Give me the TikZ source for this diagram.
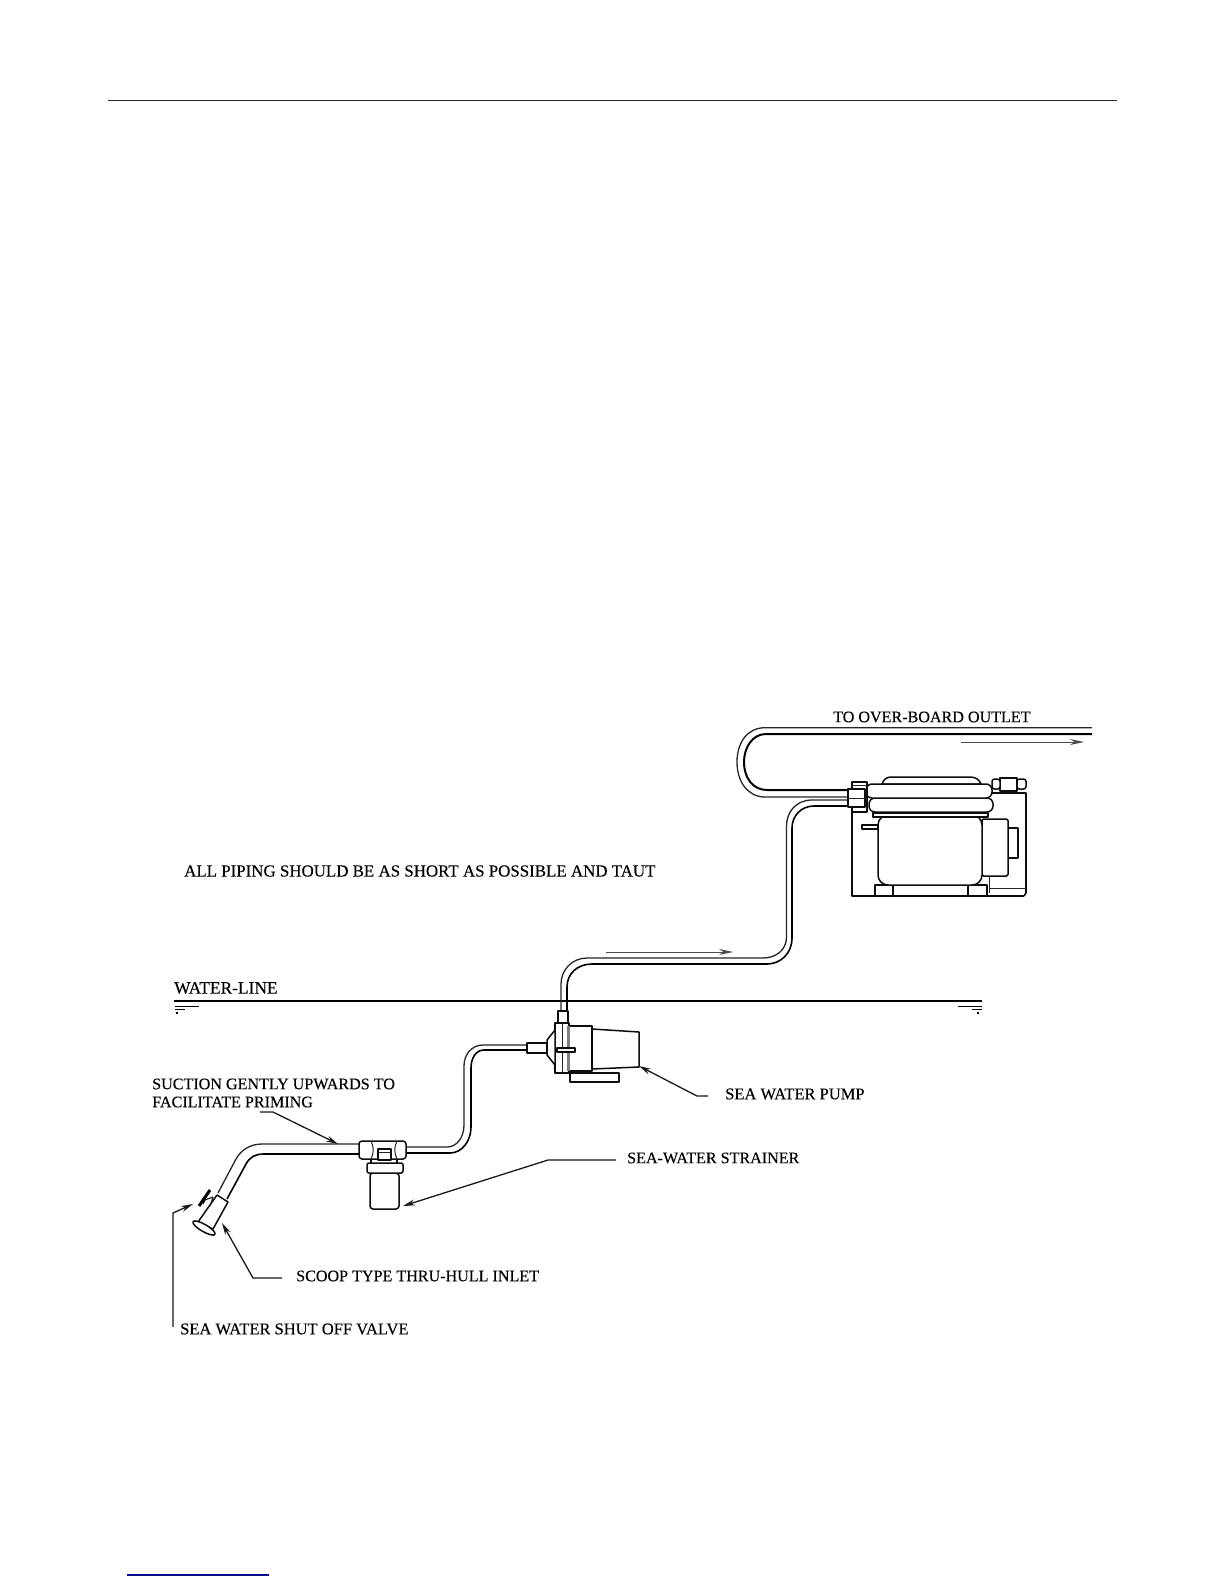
\documentclass[tikz,border=0pt]{standalone}
\usepackage{fontspec}
\setmainfont{Liberation Serif}
\newfontfamily\lblfont[FakeBold=0.15]{Liberation Serif}
\usetikzlibrary{arrows.meta}
\definecolor{linkblue}{rgb}{0.05,0.05,0.55}
\tikzset{
  pipe/.style={line width=1.3bp,black!85},
  heavy/.style={line width=2bp,black},
  part/.style={line width=1.5bp,black!95,fill=white,line join=round},
  thin part/.style={line width=1bp,black!85,line join=round},
  leader/.style={line width=1.3bp,black!90,-{Stealth[length=12bp,width=6bp]}},
  flow/.style={line width=1bp,black!70,-{Stealth[length=14bp,width=6bp]}},
  label/.style={anchor=west,inner sep=0pt,text=black,font=\lblfont\fontsize{16.1bp}{19bp}\selectfont},
  label big/.style={anchor=west,inner sep=0pt,text=black,font=\lblfont\fontsize{16.9bp}{19bp}\selectfont},
  label mid/.style={anchor=west,inner sep=0pt,text=black,font=\lblfont\fontsize{16.5bp}{19bp}\selectfont},
  label water/.style={anchor=west,inner sep=0pt,text=black,font=\lblfont\fontsize{17.4bp}{19bp}\selectfont},
}
\begin{document}
\begin{tikzpicture}[x=1bp,y=-1bp]
\useasboundingbox (0,0) rectangle (1224,1584);
\fill[white] (0,0) rectangle (1224,1584);

% page rules
\draw[line width=1.1bp,black!85] (108,100.5) -- (1117,100.5);
\draw[line width=1.4bp,linkblue] (127,1575) -- (269,1575);

% water line
\draw[line width=2.4bp,black] (174,1001) -- (982,1001);
\draw[line width=1bp] (175,1006) -- (199,1006) (175,1009) -- (185,1009);
\draw[line width=1.4bp] (176,1013) -- (178,1013);
\draw[line width=1bp] (958,1006) -- (982,1006) (972,1009) -- (982,1009);
\draw[line width=1.4bp] (977,1013) -- (979,1013);

% outlet pipe
\draw[pipe] (1092,727.7) -- (765,727.7) .. controls (747,727.7) and (737,743) .. (737,762)
   .. controls (737,782) and (748,797) .. (765,797) -- (848,797);
\draw[heavy] (1092,734) -- (766,734) .. controls (752,734) and (744,748) .. (744,762)
   .. controls (744,778) and (753,790) .. (767,790) -- (848,790);

% pump-to-head pipe
\draw[pipe] (848,800) -- (812,800) .. controls (796,800) and (786.5,812) .. (786.5,826)
   -- (786.5,937) .. controls (786.5,950) and (776,958) .. (763,958) -- (587,958)
   .. controls (572,958) and (561,970) .. (561,984) -- (561,1011);
\draw[heavy,line width=1.6bp] (848,806) -- (814,806) .. controls (801,806) and (792,816) .. (792,828)
   -- (792,938) .. controls (792,954) and (780,964) .. (767,964) -- (592,964)
   .. controls (577,964) and (567,974) .. (567,987) -- (567,1011);

% strainer-to-pump pipe
\draw[pipe] (527,1045) -- (483,1045) .. controls (472,1045) and (464,1054) .. (464,1066)
   -- (464,1125) .. controls (464,1137) and (457,1147) .. (447,1147) -- (406,1147);
\draw[heavy,line width=1.6bp] (527,1050) -- (484,1050) .. controls (476,1050) and (471,1058) .. (471,1068)
   -- (471,1127) .. controls (471,1141) and (462,1153) .. (450,1153) -- (406,1153);

% inlet pipe
\draw[pipe] (359,1144) -- (262,1144) .. controls (250,1144) and (241,1150) .. (236,1159) -- (218,1193);
\draw[heavy,line width=1.6bp] (359,1154) -- (264,1154) .. controls (255,1154) and (250,1157) .. (246,1164) -- (227,1199);

% thru-hull inlet and valve
\draw[part] (217,1195) -- (228,1202) -- (213,1229) -- (198,1222) -- cycle;
\draw[part,rotate around={-30:(204,1228)}] (204,1228) ellipse (12.7 and 3.6);
\draw[line width=1.1bp,black!90] (205,1200) -- (213,1197) (213,1197) -- (210,1206) (205,1200) -- (203,1204);
\draw[line width=3bp,black] (199,1206) -- (210,1190);

% strainer
\draw[part,rounded corners=3bp] (370,1173) -- (370,1209) -- (399,1209) -- (399,1173) -- cycle;
\draw[part,rounded corners=2bp] (367,1163) rectangle (403,1173);
\draw[part] (371,1155) -- (371,1163) (397,1155) -- (397,1163);
\draw[part,rounded corners=3bp] (359,1141) rectangle (406,1159);
\draw[thin part] (371,1141) .. controls (374,1147) and (374,1153) .. (371,1159);
\draw[thin part] (397,1141) .. controls (394,1147) and (394,1153) .. (397,1159);
\draw[part] (378,1149) rectangle (391,1160);
\draw[thin part] (378,1152) -- (391,1152);

% sea water pump
\draw[part] (592,1029) -- (639,1032) -- (639,1067) -- (592,1069) -- cycle;
\draw[part] (570,1073) rectangle (619,1082);
\draw[part] (569,1026) -- (592,1026) -- (592,1071) -- (569,1071) -- cycle;
\draw[part] (558,1011) rectangle (568,1023);
\draw[part] (555,1023) rectangle (569,1073);
\draw[thin part] (562,1023) -- (562,1073);
\draw[line width=2.2bp,black!50] (568.5,1026) -- (568.5,1071);
\draw[part] (547,1040) -- (555,1030) -- (555,1065) -- (547,1055) -- cycle;
\draw[part] (527,1043) rectangle (547,1053);
\draw[part] (557,1048) rectangle (575,1052);

% compressor motor: frame
\draw[part,line width=1.6bp] (852,812) -- (852,896) -- (1024,896);
\draw[part,line width=1.6bp,fill=none] (992,793) -- (1026,793) -- (1026,893) -- (1024,896);
\draw[thin part] (989,876) -- (989,893) (989,888) -- (1026,888);
% right-hand box
\draw[part] (982,828) rectangle (1018,858);
\draw[part,rounded corners=1.5bp] (982,819) rectangle (1008,876);
% feet and motor
\draw[part] (875,885) rectangle (893,896);
\draw[part] (968,885) rectangle (987,896);
\draw[part] (862,825) rectangle (878,829);
\draw[part,rounded corners=10bp] (878,815) -- (878,885) -- (982,885) -- (982,815) -- cycle;
\draw[part] (873,813) rectangle (988,817);
% head
\draw[part] (882,784) .. controls (884,778) and (888,777) .. (892,777) -- (970,777)
   .. controls (975,777) and (979,779) .. (981,784) -- cycle;
\draw[part,rounded corners=6bp] (869,798) rectangle (993,812);
\draw[part,rounded corners=6bp] (866,784) rectangle (992,798);
% fittings at head
\draw[part] (852,782) rectangle (867,812);
\draw[part] (848,789) rectangle (865,807);
\draw[thin part] (848,798) -- (867,798) (852,785) -- (866,785);
% right-hand fitting
\draw[part] (1000,778) rectangle (1017,791);
\draw[part,rounded corners=2.5bp] (992,779) rectangle (1000,789);
\draw[part,rounded corners=2.5bp] (1017,779) rectangle (1026,789);

% flow arrows
\coordinate (flowAa) at (961,742); \coordinate (flowAb) at (1084,742);
\coordinate (flowBa) at (606,952); \coordinate (flowBb) at (733,952);
\draw[flow] (flowAa) -- (flowAb);
\draw[flow] (flowBa) -- (flowBb);

% labels
\node[label] (outlet) at (833,717) {TO OVER-BOARD OUTLET};
\node[label big] (piping) at (184,871) {ALL PIPING SHOULD BE AS SHORT AS POSSIBLE AND TAUT};
\node[label water] (waterline) at (174,988) {WATER-LINE};
\node[label] (suctionA) at (152,1084) {SUCTION GENTLY UPWARDS TO};
\node[label] (suctionB) at (152,1102) {FACILITATE PRIMING};
\node[label mid] (pumplabel) at (725,1094) {SEA WATER PUMP};
\node[label] (strainerlabel) at (627,1158) {SEA-WATER STRAINER};
\node[label] (scooplabel) at (296,1276) {SCOOP TYPE THRU-HULL INLET};
\node[label mid] (valvelabel) at (180,1329) {SEA WATER SHUT OFF VALVE};

% leaders
\coordinate (pumpS) at (708,1096); \coordinate (pumpB) at (697,1096); \coordinate (pumpT) at (639,1066);
\coordinate (strS) at (616,1160); \coordinate (strB) at (548,1160); \coordinate (strT) at (403,1206);
\coordinate (sucS) at (260,1112); \coordinate (sucB) at (273,1112); \coordinate (sucT) at (338,1144);
\coordinate (scoS) at (282,1278); \coordinate (scoB) at (253,1278); \coordinate (scoT) at (222,1223);
\coordinate (valS) at (173,1327); \coordinate (valB) at (173,1213); \coordinate (valT) at (193,1204);
\draw[leader] (pumpS) -- (pumpB) -- (pumpT);
\draw[leader] (strS) -- (strB) -- (strT);
\draw[leader] (sucS) -- (sucB) -- (sucT);
\draw[leader] (scoS) -- (scoB) -- (scoT);
\draw[leader] (valS) -- (valB) -- (valT);
\end{tikzpicture}
\end{document}
